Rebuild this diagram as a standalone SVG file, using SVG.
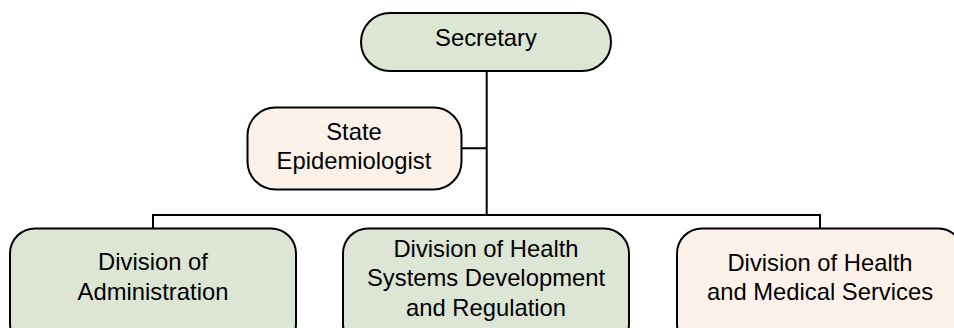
<svg xmlns="http://www.w3.org/2000/svg" width="954" height="328" viewBox="0 0 954 328">
<style>
.g{fill:#dde5d4;stroke:#000;stroke-width:2}
.p{fill:#fdf2ea;stroke:#000;stroke-width:2}
.c{fill:none;stroke:#000;stroke-width:2}
text{font-family:"Liberation Sans",Arial,sans-serif;font-size:23.8px;fill:#000;text-anchor:middle}
</style>
<rect width="954" height="328" fill="#fff"/>
<g id="connectors">
<path class="c" d="M486.7 71V215M462 148.3H486.7M153 228V215H820V228"/>
</g>
<g id="secretary">
<rect class="g" x="361" y="13" width="250" height="58" rx="29"/>
<text x="486" y="45.5">Secretary</text>
</g>
<g id="state-epidemiologist">
<rect class="p" x="247.5" y="107.5" width="214" height="82" rx="28"/>
<text x="354" y="139.5">State</text>
<text x="354" y="168.5">Epidemiologist</text>
</g>
<g id="division-administration">
<rect class="g" x="10" y="228.5" width="286" height="120" rx="25"/>
<text x="153" y="270">Division of</text>
<text x="153" y="300">Administration</text>
</g>
<g id="division-hsdr">
<rect class="g" x="343" y="228.5" width="286" height="120" rx="25"/>
<text x="486" y="256.7">Division of Health</text>
<text x="486" y="286.3">Systems Development</text>
<text x="486" y="315.5">and Regulation</text>
</g>
<g id="division-hms">
<rect class="p" x="677" y="228.5" width="286" height="120" rx="25"/>
<text x="820" y="270.5">Division of Health</text>
<text x="820" y="300">and Medical Services</text>
</g>
</svg>
